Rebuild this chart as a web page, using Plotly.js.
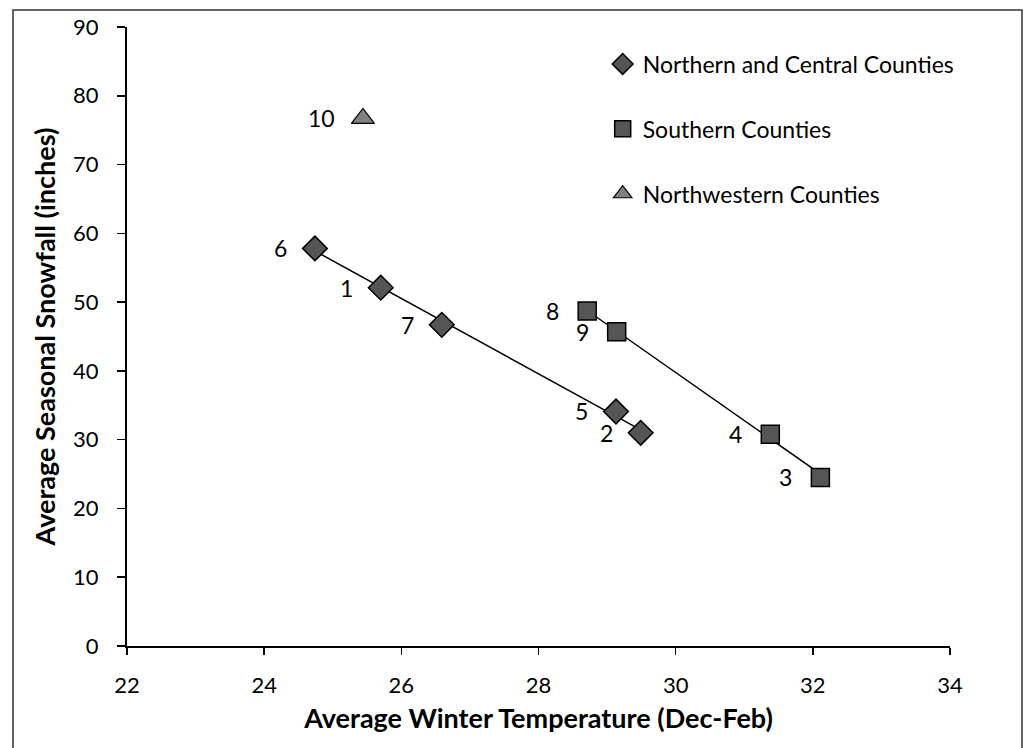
<!DOCTYPE html>
<html>
<head>
<meta charset="utf-8">
<script src="https://cdn.plot.ly/plotly-3.0.1.min.js"></script>
<style>html,body{margin:0;padding:0;background:#fff;}#chart{width:1026px;height:748px;}</style>
</head>
<body>
<div id="chart"></div>
<script>
// Data
const northLabels = ["6", "1", "7", "5", "2"];
const northTemp = [24.74, 25.70, 26.59, 29.13, 29.49];
const northSnow = [57.8, 52.1, 46.7, 34.1, 31.0];

const southLabels = ["8", "9", "4", "3"];
const southTemp = [28.71, 29.14, 31.38, 32.11];
const southSnow = [48.7, 45.7, 30.8, 24.5];

const nwLabels = ["10"];
const nwTemp = [25.44];
const nwSnow = [76.7];

const seriesNames = ["Northern and Central Counties", "Southern Counties", "Northwestern Counties"];
const xTicks = [22, 24, 26, 28, 30, 32, 34];
const yTicks = [0, 10, 20, 30, 40, 50, 60, 70, 80, 90];

const FONT = 'Lato, "Noto Sans", "Liberation Sans", sans-serif';

function fitLine(xs, ys) {
  const n = xs.length;
  const mx = xs.reduce((a, b) => a + b, 0) / n;
  const my = ys.reduce((a, b) => a + b, 0) / n;
  let sxy = 0, sxx = 0;
  for (let i = 0; i < n; i++) { sxy += (xs[i] - mx) * (ys[i] - my); sxx += (xs[i] - mx) ** 2; }
  const m = sxy / sxx, b = my - m * mx;
  const x0 = Math.min(...xs), x1 = Math.max(...xs);
  return { x: [x0, x1], y: [m * x0 + b, m * x1 + b] };
}

const nFit = fitLine(northTemp, northSnow);
const sFit = fitLine(southTemp, southSnow);

const traces = [
  { x: nFit.x, y: nFit.y, mode: 'lines', line: { color: '#000', width: 1.5 }, showlegend: false, hoverinfo: 'skip' },
  { x: sFit.x, y: sFit.y, mode: 'lines', line: { color: '#000', width: 1.5 }, showlegend: false, hoverinfo: 'skip' },
  { x: northTemp, y: northSnow, mode: 'markers', name: seriesNames[0], legendgroup: 'a',
    marker: { symbol: 'diamond', size: 19, color: '#555555', line: { color: '#000', width: 1.5 } } },
  { x: southTemp, y: southSnow, mode: 'markers', name: seriesNames[1], legendgroup: 'b',
    marker: { symbol: 'square', size: 18, color: '#555555', line: { color: '#000', width: 1.5 } } },
  { x: nwTemp, y: nwSnow, mode: 'markers', name: seriesNames[2], legendgroup: 'c',
    marker: { symbol: 'triangle-up', size: 20, color: '#808080', line: { color: '#000', width: 1.2 } } }
];

const annotations = [];
function addLabels(xs, ys, labels) {
  for (let i = 0; i < xs.length; i++) {
    annotations.push({ x: xs[i], y: ys[i], xref: 'x', yref: 'y', text: labels[i], showarrow: false,
      xanchor: 'right', yanchor: 'middle', xshift: -26, font: { family: FONT, size: 23, color: '#000' } });
  }
}
addLabels(northTemp, northSnow, northLabels);
addLabels(southTemp, southSnow, southLabels);
addLabels(nwTemp, nwSnow, nwLabels);

const layout = {
  width: 1026, height: 748,
  margin: { l: 127, r: 76, t: 27, b: 102 },
  paper_bgcolor: '#fff', plot_bgcolor: '#fff',
  font: { family: FONT, size: 22, color: '#000' },
  xaxis: {
    range: [22, 34], tickvals: xTicks, ticktext: xTicks.map(String),
    showgrid: false, zeroline: false, showline: true, linecolor: '#000', linewidth: 2,
    ticks: 'outside', ticklen: 7, tickcolor: '#000', tickwidth: 1.5, ticklabelstandoff: 12,
    tickfont: { family: FONT, size: 22, color: '#000' },
    title: { text: '<b>Average Winter Temperature (Dec-Feb)</b>', standoff: 12, font: { family: FONT, size: 27, color: '#000' } }
  },
  yaxis: {
    range: [0, 90], tickvals: yTicks, ticktext: yTicks.map(String),
    showgrid: false, zeroline: false, showline: true, linecolor: '#000', linewidth: 2,
    ticks: 'outside', ticklen: 8, tickcolor: '#000', tickwidth: 1.5, ticklabelstandoff: 14,
    tickfont: { family: FONT, size: 22, color: '#000' },
    title: { text: '<b>Average Seasonal Snowfall (inches)</b>', standoff: 10, font: { family: FONT, size: 27, color: '#000' } }
  },
  legend: {
    x: 0.578, y: 0.975, xanchor: 'left', yanchor: 'top',
    bgcolor: 'rgba(0,0,0,0)', borderwidth: 0,
    font: { family: FONT, size: 23, color: '#000' },
    tracegroupgap: 32, itemsizing: 'trace'
  },
  annotations: annotations,
  shapes: [
    { type: 'rect', xref: 'paper', yref: 'paper',
      x0: (13 - 127) / 823, x1: (1022 - 127) / 823, y0: -0.3, y1: (646 - 10) / 619,
      line: { color: '#333', width: 1.5 }, fillcolor: 'rgba(0,0,0,0)', layer: 'below' }
  ],
  showlegend: true
};

Plotly.newPlot('chart', traces, layout, { displayModeBar: false, staticPlot: true });
</script>
</body>
</html>
